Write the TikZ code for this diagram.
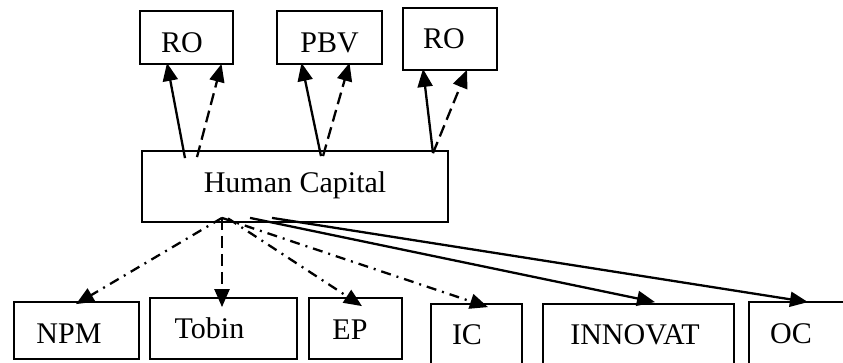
\documentclass[tikz,border=0pt]{standalone}
\usepackage{fontspec}
\setmainfont{Liberation Serif}
\usetikzlibrary{arrows.meta,calc}
\begin{document}
\begin{tikzpicture}[x=1pt,y=-1pt,
  box/.style={draw, line width=1.8pt, inner sep=0pt, text depth=0pt,
    font=\fontsize{30}{36}\selectfont},
  link/.style={line width=2.3pt, -{Triangle[length=18pt,width=15pt]}},
  solidlink/.style={link},
  dashlink/.style={link, dash pattern=on 12pt off 6pt},
  dotdashlink/.style={link, dash pattern=on 10pt off 6pt on 2pt off 6pt}]
\useasboundingbox (0,0) rectangle (843,362);
\clip (0,0) rectangle (843,362);

% top row
\node[box, minimum width=93, minimum height=53, text height=29pt] (ro1) at (186.5,37.5) {\hspace*{-9pt}RO};
\node[box, minimum width=105, minimum height=53, text height=29pt] (pbv) at (329.5,37.5) {PBV};
\node[box, minimum width=94, minimum height=62, text height=18pt] (ro2) at (450,39) {\hspace*{-12pt}RO};

% centre
\node[box, minimum width=306, minimum height=71, text height=11pt] (hc) at (295,186.5) {Human Capital};

% bottom row
\node[box, minimum width=125, minimum height=57, text height=25pt] (npm) at (76.5,330.5) {\hspace*{-15pt}NPM};
\node[box, minimum width=147, minimum height=61, text height=19pt] (tobin) at (223.5,328.5) {\hspace*{-28pt}Tobin};
\node[box, minimum width=93, minimum height=61, text height=21pt] (ep) at (355.5,328.5) {\hspace*{-11pt}EP};
\node[box, minimum width=91, minimum height=70, text height=10pt] (ic) at (476.5,339) {\hspace*{-19pt}IC};
\node[box, minimum width=191, minimum height=70, text height=10pt] (innovat) at (638.5,339) {\hspace*{-7pt}INNOVAT};
\node[box, minimum width=101, minimum height=72, text height=10pt] (oc) at (799.5,338) {\hspace*{-17pt}OC};

\coordinate (hcp) at ($(hc.south)+(-73,-5)$);

% upward links
\draw[solidlink] ($(hc.north)+(-110,8)$) -- ($(ro1.south)+(-19.5,-2)$);
\draw[dashlink]  ($(hc.north)+(-98,7)$)  -- ($(ro1.south)+(35,-1)$);
\draw[solidlink] ($(hc.north)+(26,6)$)   -- ($(pbv.south)+(-28,-2)$);
\draw[dashlink]  ($(hc.north)+(28,6)$)   -- ($(pbv.south)+(20,-2)$);
\draw[solidlink] ($(hc.north)+(138,3)$)  -- ($(ro2.south)+(-27,-2)$);
\draw[dashlink]  ($(hc.north)+(138,3)$)  -- ($(ro2.south)+(17,-1)$);

% downward links
\draw[dotdashlink] (hcp) -- ($(npm.north)+(-0.5,3)$);
\draw[dashlink]    (hcp) -- ($(tobin.north)+(-1.5,10)$);
\draw[dotdashlink] ($(hcp)+(6,0.5)$) -- ($(ep.north)+(6.5,9)$);
\draw[dotdashlink] (hcp) -- ($(ic.north)+(11.5,4)$);
\draw[solidlink]   ($(hcp)+(28,0)$) -- ($(innovat.north)+(16.5,-1)$);
\draw[solidlink]   ($(hcp)+(50,0)$) -- ($(oc.north)+(8.5,1)$);
\end{tikzpicture}
\end{document}
